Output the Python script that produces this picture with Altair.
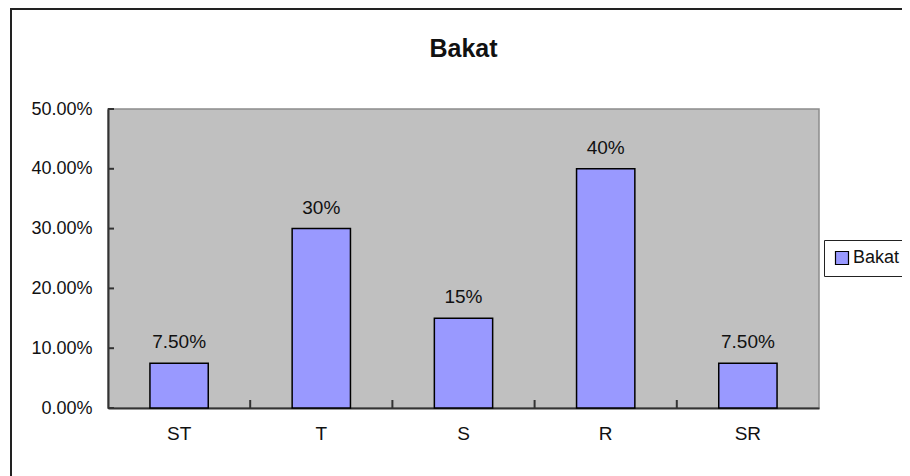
import altair as alt
import pandas as pd

categories = ["ST", "T", "S", "R", "SR"]
values = [0.075, 0.30, 0.15, 0.40, 0.075]
value_labels = ["7.50%", "30%", "15%", "40%", "7.50%"]
series_name = "Bakat"
chart_title = "Bakat"
y_ticks = [0.0, 0.1, 0.2, 0.3, 0.4, 0.5]
x_boundaries = [1, 2, 3, 4]

FONT = "Liberation Sans, Arial"

df = pd.DataFrame({"cat": categories, "val": values, "lab": value_labels,
                   "series": [series_name] * len(categories)})

W, H = 711, 299

xscale = alt.Scale(domain=categories, paddingInner=0.59, paddingOuter=0.295)
yscale = alt.Scale(domain=[0, 0.5], nice=False)

bars = alt.Chart(df).mark_bar(stroke="black", strokeWidth=1.5).encode(
    x=alt.X("cat:N", scale=xscale, sort=categories, title=None,
            axis=alt.Axis(labelAngle=0, ticks=False, labelPadding=16,
                          labelFontSize=19, labelFont=FONT, labelColor="#111",
                          domainColor="#333", domainWidth=2)),
    y=alt.Y("val:Q", scale=yscale, title=None,
            axis=alt.Axis(values=y_ticks, format=".2%", ticks=False, grid=False,
                          labelPadding=16, labelFontSize=18, labelFont=FONT,
                          labelColor="#111", domainColor="#333", domainWidth=2)),
    color=alt.Color("series:N", scale=alt.Scale(domain=[series_name], range=["#9999FF"]),
                    legend=alt.Legend(title=None, orient="none", legendX=716, legendY=131,
                                      symbolType="square", symbolSize=169,
                                      symbolStrokeColor="black", symbolStrokeWidth=1.2,
                                      labelFontSize=18, labelFont=FONT, labelColor="#111",
                                      labelOffset=2, padding=9, strokeColor="#222",
                                      fillColor="white")),
)

texts = alt.Chart(df).mark_text(baseline="alphabetic", dy=-15, fontSize=19,
                                font=FONT, color="#111").encode(
    x=alt.X("cat:N", scale=xscale, sort=categories, axis=None),
    y=alt.Y("val:Q", scale=yscale),
    text="lab:N",
)

ytick_df = pd.DataFrame({"v": y_ticks})
yticks = alt.Chart(ytick_df).mark_rule(color="#333", strokeWidth=2).encode(
    y=alt.Y("v:Q", scale=yscale),
    x=alt.value(0), x2=alt.value(6),
)

xb_df = pd.DataFrame({"b": x_boundaries})
xticks = alt.Chart(xb_df).mark_rule(color="#333", strokeWidth=2).encode(
    x=alt.X("b:Q", scale=alt.Scale(domain=[0, 5], nice=False), axis=None),
    y=alt.value(H - 8), y2=alt.value(H),
)

border = alt.Chart(alt.Data(values=[{}])).mark_rect(
    fill=None, stroke="#222", strokeWidth=2).encode(
    x=alt.value(-97), x2=alt.value(900), y=alt.value(-100), y2=alt.value(400),
)

title_df = pd.DataFrame({"t": [chart_title]})
title = alt.Chart(title_df).mark_text(
    font=FONT, fontSize=25, fontWeight="bold", color="#111",
    baseline="alphabetic", align="center").encode(
    x=alt.value(W / 2), y=alt.value(-52), text="t:N",
)

chart = alt.layer(border, bars, texts, yticks, xticks, title).resolve_scale(
    x="independent"
).properties(
    width=W, height=H,
    padding={"left": 100, "top": 101, "right": 83, "bottom": 68},
    autosize=alt.AutoSizeParams(type="none"),
    background="white",
).configure_view(
    fill="#C0C0C0", stroke="#8c8c8c", strokeWidth=1.5
)

chart.save("out.html", embed_options={"renderer": "svg", "actions": False})
